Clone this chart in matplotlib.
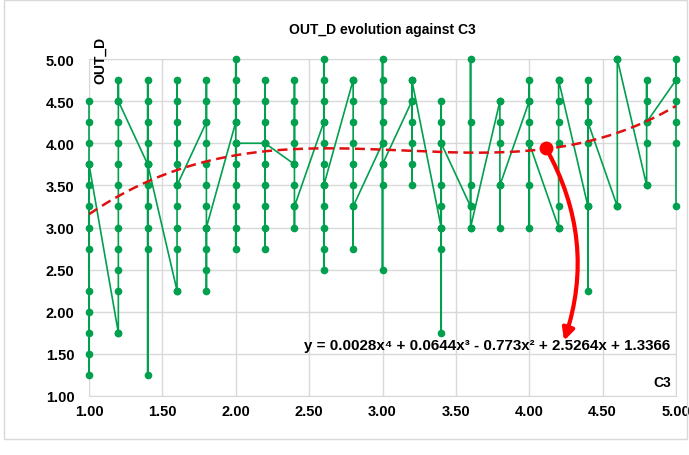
import numpy as np
import matplotlib
matplotlib.use("Agg")
import matplotlib.pyplot as plt
from matplotlib.patches import FancyArrowPatch, Rectangle

plt.rcParams['font.family'] = ['Liberation Sans', 'DejaVu Sans']
plt.rcParams['font.weight'] = 'bold'

# C3 categories (x positions of the columns)
c3 = [1.0, 1.2, 1.4, 1.6, 1.8, 2.0, 2.2, 2.4, 2.6, 2.8, 3.0,
      3.2, 3.4, 3.6, 3.8, 4.0, 4.2, 4.4, 4.6, 4.8, 5.0]

# OUT_D values observed at each C3 value (dots)
out_d = [
    [4.5, 4.25, 4.0, 3.75, 3.5, 3.25, 3.0, 2.75, 2.25, 2.0, 1.75, 1.5, 1.25],
    [4.75, 4.5, 4.25, 4.0, 3.75, 3.5, 3.25, 3.0, 2.75, 2.5, 2.25, 1.75],
    [4.75, 4.5, 4.25, 4.0, 3.75, 3.5, 3.25, 3.0, 2.75, 1.25],
    [4.75, 4.5, 4.25, 4.0, 3.75, 3.5, 3.25, 3.0, 2.75, 2.25],
    [4.75, 4.5, 4.25, 4.0, 3.75, 3.5, 3.25, 3.0, 2.75, 2.5, 2.25],
    [5.0, 4.75, 4.5, 4.25, 4.0, 3.75, 3.5, 3.25, 3.0, 2.75],
    [4.75, 4.5, 4.25, 4.0, 3.75, 3.5, 3.25, 3.0, 2.75],
    [4.75, 4.5, 4.25, 4.0, 3.75, 3.5, 3.25, 3.0],
    [5.0, 4.75, 4.5, 4.25, 4.0, 3.75, 3.5, 3.25, 3.0, 2.75, 2.5],
    [4.75, 4.5, 4.25, 4.0, 3.75, 3.5, 3.25, 2.75],
    [5.0, 4.75, 4.5, 4.25, 4.0, 3.75, 3.5, 2.5],
    [4.75, 4.5, 4.25, 4.0, 3.75, 3.5],
    [4.5, 4.25, 4.0, 3.5, 3.25, 3.0, 2.75, 1.75],
    [5.0, 4.25, 3.5, 3.25, 3.0],
    [4.5, 4.25, 4.0, 3.5, 3.0],
    [4.75, 4.5, 4.25, 4.0, 3.5, 3.0],
    [4.75, 4.5, 4.25, 4.0, 3.25, 3.0],
    [4.75, 4.5, 4.25, 4.0, 3.25, 2.25],
    [5.0, 3.25],
    [4.75, 4.5, 4.25, 4.0, 3.5],
    [5.0, 4.75, 4.5, 4.25, 4.0, 3.25],
]

# first and last value of each column in the series order (line joins)
first_val = [None, 1.75, 3.75, 2.25, 4.25, 4.25, 4.0, 3.75, 4.25, 4.75, 4.0,
             4.5, 3.0, 3.25, 4.5, 4.5, 3.0, 3.25, 3.25, 3.5, 4.75]
last_val = [3.75, 4.5, 3.75, 3.5, 3.0, 4.0, 4.0, 3.25, 3.5, 3.25, 3.75,
            4.75, 4.0, 3.0, 3.5, 4.0, 4.75, 4.25, 5.0, 4.25, None]

# polynomial trend line (Excel, order 4)
coefs = [0.0028, 0.0644, -0.773, 2.5264, 1.3366]
equation = "y = 0.0028x\u2074 + 0.0644x\u00b3 - 0.773x\u00b2 + 2.5264x + 1.3366"

# build series in order
xs, ys = [], []
for x, vals, f, l in zip(c3, out_d, first_val, last_val):
    seq = ([f] if f is not None else []) + vals + ([l] if l is not None else [])
    xs += [x] * len(seq)
    ys += seq

green = '#00A04F'
fig = plt.figure(figsize=(6.89, 4.56), dpi=100)
ax = fig.add_axes([89/689, 1 - 397/456, 587/689, 337/456])

ax.plot(xs, ys, color=green, lw=1.2, marker='o', ms=4.5, zorder=3,
        clip_on=False)

xt = np.linspace(1, 5, 200)
ax.plot(xt, np.polyval(coefs, xt), color='#E01010', lw=1.8,
        dashes=(4, 2.2), zorder=4)

ax.set_xlim(1, 5)
ax.set_ylim(1, 5)
ax.set_xticks(np.arange(1, 5.01, 0.5))
ax.set_yticks(np.arange(1, 5.01, 0.5))
ax.xaxis.set_major_formatter('{x:.2f}')
ax.yaxis.set_major_formatter('{x:.2f}')
ax.tick_params(length=0, labelsize=10.5)
ax.tick_params(axis='y', pad=10.5)
ax.tick_params(axis='x', pad=6)
for lab in ax.get_xticklabels() + ax.get_yticklabels():
    lab.set_fontweight('bold')
ax.grid(True, color='#D9D9D9', lw=1)
ax.set_axisbelow(True)
for s in ax.spines.values():
    s.set_color('#D9D9D9')

fig.text(0.555, 1 - 30/456, 'OUT_D evolution against C3', ha='center',
         va='center', fontsize=10, fontweight='bold')
ax.text(0.019, 1.068, 'OUT_D', rotation=90, ha='center', va='top',
        transform=ax.transAxes, fontsize=10, fontweight='bold')
ax.text(0.991, 0.042, 'C3', ha='right', va='center',
        transform=ax.transAxes, fontsize=10, fontweight='bold')
ax.text(0.991, 0.151, equation, ha='right', va='center',
        transform=ax.transAxes, fontsize=10.9, fontweight='bold', zorder=6)

# red annotation arrow
ax.plot([4.114], [3.944], 'o', color='#FF0000', ms=9, zorder=7)
arrow = FancyArrowPatch((4.114, 3.944), (4.237, 1.656),
                        connectionstyle='arc3,rad=-0.22',
                        arrowstyle='-|>,head_length=7,head_width=3.5',
                        color='#FF0000', lw=3, zorder=7,
                        shrinkA=0, shrinkB=0)
ax.add_patch(arrow)

fig.patches.append(Rectangle((4/689, 1 - 440/456), 683/689, 439/456,
                             transform=fig.transFigure, fill=False,
                             edgecolor='#D9D9D9', lw=1))

fig.savefig('out.png', dpi=100)
